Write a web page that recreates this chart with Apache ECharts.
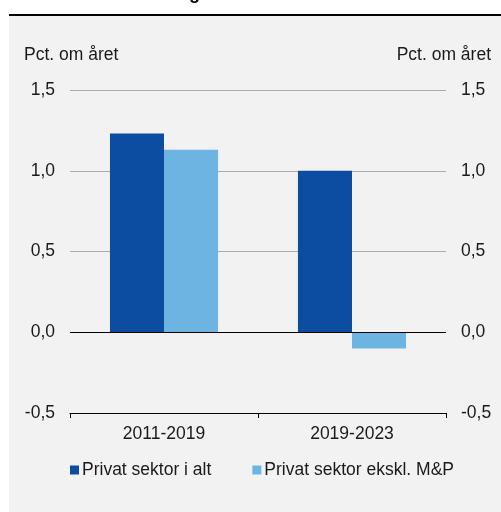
<!DOCTYPE html>
<html style="height: 100%">
<head>
    <meta charset="utf-8">
    <title>ECharts</title>
    <script src="https://cdn.jsdelivr.net/npm/echarts@6/dist/echarts.min.js"></script>
</head>
<body style="height: 100%; margin: 0; background: #ffffff">
<div id="main" style="width: 501px; height: 512px"></div>

<script type="text/javascript">
    // data
    var categories = ['2011-2019', '2019-2023'];
    var seriesNames = ['Privat sektor i alt', 'Privat sektor ekskl. M&P'];
    var privatIAlt = [1.23, 1.0];
    var privatEkskl = [1.13, -0.1];
    var yTicks = { min: -0.5, max: 1.5, interval: 0.5 };
    var unitLabel = 'Pct. om året';

    var font = '"Liberation Sans", Arial, sans-serif';
    var textColor = '#1a1a1a';
    var fs = 17.5;

    function fmt(v) {
        return v.toFixed(1).replace('.', ',');
    }

    var myChart = echarts.init(document.getElementById('main'), null, {renderer: 'canvas'});

    option = {
        backgroundColor: '#ffffff',
        animation: false,
        textStyle: {fontFamily: font},
        graphic: [
            {type: 'rect', shape: {x: 9, y: 15, width: 492, height: 497}, style: {fill: '#f2f2f2'}, z: -10},
            {type: 'rect', shape: {x: 9, y: 14, width: 492, height: 2}, style: {fill: '#000000'}, z: -9},
            {type: 'text', left: 189, top: -15, style: {text: 'g', font: 'bold 18px ' + font, fill: '#000'}},
            {type: 'text', left: 24, top: 46, style: {text: unitLabel, font: fs + 'px ' + font, fill: textColor}},
            {type: 'text', right: 10, top: 46, style: {text: unitLabel, font: fs + 'px ' + font, fill: textColor}}
        ],
        grid: {left: 70, right: 55, top: 90, bottom: 99, containLabel: false},
        legend: {
            left: 65,
            top: 456,
            itemWidth: 9,
            itemHeight: 9,
            itemGap: 41,
            icon: 'rect',
            textStyle: {fontSize: fs, color: textColor, fontFamily: font, padding: [0, 0, 0, -2]},
            data: seriesNames
        },
        xAxis: {
            type: 'category',
            data: categories,
            axisLine: {onZero: false, lineStyle: {color: '#000', width: 1}},
            axisTick: {show: true, length: 5, lineStyle: {color: '#000'}},
            axisLabel: {fontSize: fs, color: textColor, margin: 12, fontFamily: font}
        },
        yAxis: [
            {
                type: 'value',
                min: yTicks.min, max: yTicks.max, interval: yTicks.interval,
                axisLine: {show: false},
                axisTick: {show: false},
                splitLine: {lineStyle: {color: '#ababab', width: 1}},
                axisLabel: {fontSize: fs, color: textColor, margin: 15, fontFamily: font, formatter: fmt}
            },
            {
                type: 'value',
                min: yTicks.min, max: yTicks.max, interval: yTicks.interval,
                axisLine: {show: false},
                axisTick: {show: false},
                splitLine: {show: false},
                axisLabel: {fontSize: fs, color: textColor, margin: 15, fontFamily: font, formatter: fmt}
            }
        ],
        series: [
            {
                name: seriesNames[0],
                type: 'bar',
                data: privatIAlt,
                barGap: '0%',
                barCategoryGap: '42.5%',
                itemStyle: {color: '#0c4da2'},
                markLine: {
                    silent: true,
                    symbol: 'none',
                    label: {show: false},
                    lineStyle: {color: '#000', width: 1, type: 'solid'},
                    data: [{yAxis: 0}]
                }
            },
            {
                name: seriesNames[1],
                type: 'bar',
                data: privatEkskl,
                barGap: '0%',
                barCategoryGap: '42.5%',
                itemStyle: {color: '#6db4e3'}
            }
        ]
    };
    myChart.setOption(option, true);
</script>
</body>
</html>
